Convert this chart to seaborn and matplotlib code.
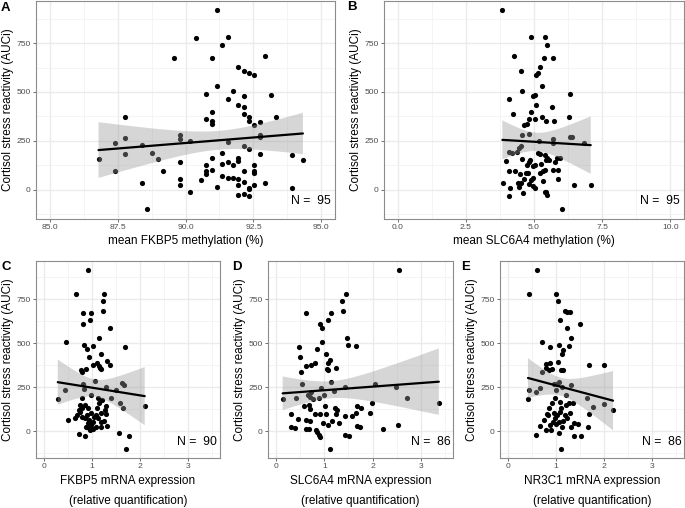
import numpy as np
import pandas as pd
import matplotlib
matplotlib.use("Agg")
import matplotlib.pyplot as plt
import seaborn as sns
from matplotlib.ticker import FixedLocator, MultipleLocator, FormatStrFormatter

# ---------------- data ----------------
a_x = [86.80, 87.39, 87.39, 87.78, 87.78, 87.78, 88.39, 88.39, 88.58, 88.77, 88.98, 89.17, 89.57,
       89.78, 89.78, 89.78, 89.78, 89.78, 90.16, 90.16, 90.37, 90.56, 90.77, 90.77, 90.77, 90.77,
       90.77, 90.96, 90.96, 90.96, 90.96, 90.96, 90.96, 91.15, 91.15, 91.15, 91.36, 91.36, 91.36,
       91.36, 91.55, 91.55, 91.55, 91.55, 91.55, 91.75, 91.75, 91.75, 91.94, 91.94, 91.94, 91.94,
       91.94, 91.94, 91.94, 92.15, 92.15, 92.15, 92.15, 92.15, 92.15, 92.15, 92.15, 92.34, 92.34,
       92.34, 92.34, 92.34, 92.34, 92.34, 92.53, 92.53, 92.53, 92.53, 92.53, 92.53, 92.74, 92.74,
       92.74, 92.74, 92.93, 92.93, 93.13, 93.33, 93.91, 93.91, 94.32]
a_y = [158, 236, 97, 374, 265, 182, 228, 31, -102, 189, 158, 94, 673,
       277, 257, 143, 53, 24, 250, -12, 777, 48, 490, 359, 128, 94,
       82, 396, 350, 338, 673, 163, 100, 918, 532, 14, 740, 189, 131,
       68, 779, 466, 243, 141, 58, 503, 126, 61, 629, 435, 160, 148,
       56, 24, -27, 609, 480, 422, 386, 221, 97, 41, -22, 597, 374,
       349, 207, 10, 2, -32, 588, 333, 124, 95, 83, 24, 347, 281,
       269, 184, 685, 34, 483, 372, 177, 7, 150]

b_x = [3.84, 4.88, 5.41, 5.48, 4.25, 5.35, 5.71, 5.21, 4.53, 5.13, 5.07, 5.31, 4.57, 6.33, 4.95,
       5.02, 4.08, 5.09, 5.67, 4.88, 4.24, 5.30, 6.27, 5.02, 4.81, 5.45, 5.75, 4.73, 4.64,
       4.55, 4.80, 5.19, 5.71, 5.71, 6.32, 6.39, 6.82, 4.10, 4.18, 4.36, 4.45, 4.52,
       3.99, 4.56, 4.81, 4.74, 4.85, 5.14, 5.21, 5.42, 5.49, 5.56, 5.45, 5.84, 5.94, 5.77,
       4.10, 4.29, 4.47, 4.70, 4.78, 4.95, 5.02, 5.27, 5.32, 5.39, 5.21, 5.70, 5.88,
       4.95, 4.88, 4.62, 4.53, 4.41, 5.33, 5.88, 3.88,
       4.46, 4.82, 5.02, 4.96, 4.12, 4.10, 4.58, 5.43, 5.48, 5.41, 6.48, 7.08, 6.01]
b_y = [918, 779, 779, 740, 685, 673, 673, 629, 609, 597, 588, 532, 503, 490, 480,
       483, 466, 435, 422, 396, 386, 374, 372, 362, 359, 349, 349, 338, 332,
       277, 282, 250, 257, 236, 269, 270, 236, 192, 189, 192, 214, 223,
       146, 158, 143, 126, 150, 185, 184, 179, 163, 153, 151, 163, 163, 141,
       95, 94, 82, 83, 87, 121, 126, 133, 94, 99, 85, 100, 100,
       58, 51, 53, 36, 32, 46, 56, 31,
       14, 27, 10, 19, 7, -32, -20, -15, -29, -12, 22, 24, -102]

c_x = [0.91, 0.67, 1.24, 1.23, 1.23, 0.81, 0.97, 0.96, 0.81, 1.38, 1.14, 0.46, 0.83, 0.89, 1.01,
       1.69, 1.18, 0.93, 1.31, 1.10, 1.01, 1.38, 1.14, 1.17, 1.19, 0.76, 0.79, 0.88,
       0.43, 0.28, 0.81, 0.82, 1.05, 1.28, 1.63, 1.67, 1.50, 1.40, 1.58, 1.65, 0.98, 0.79,
       2.10, 1.57, 1.78, 1.70, 0.79, 0.75, 0.72, 0.69, 0.49, 0.65, 0.85, 0.91, 0.98, 0.90,
       0.84, 0.79, 0.94, 1.01, 0.91, 0.98, 0.88, 0.94, 1.08, 1.19, 1.31, 1.19, 1.12, 1.19,
       1.26, 1.10, 1.15, 1.20, 1.12, 1.29, 1.08, 1.03, 0.72, 0.86, 0.95, 1.02, 1.24, 1.28, 0.74]
c_y = [916, 777, 777, 739, 684, 673, 673, 629, 610, 588, 531, 504, 491, 467, 482,
       480, 436, 421, 399, 385, 378, 378, 370, 361, 351, 348, 336, 353,
       236, 183, 268, 240, 285, 253, 274, 264, 232, 191, 159, 130, 206, 187,
       145, -11, -25, -101, 130, 149, 121, 93, 66, 74, 149, 130, 102, 93,
       74, 83, 64, 55, 45, 36, 26, 17, 26, 26, 32, 55, 74, 102,
       121, 130, 159, 178, 187, 145, 93, 83, -17, -28, 10, 12, 60, 100, 110]

d_x = [1.44, 1.37, 0.61, 1.14, 1.39, 1.07, 0.90, 0.95, 1.47, 1.48, 1.66, 0.94, 0.46, 0.85, 0.49,
       1.03, 1.12, 1.08, 0.73, 0.62, 0.80, 1.05, 1.07, 1.25, 0.51, 2.56,
       0.54, 0.93, 1.13, 1.00, 1.43, 1.20, 2.06, 0.72, 0.76, 0.69, 0.89, 0.40, 0.13, 2.48, 2.72, 0.66,
       3.38, 1.98, 1.95, 2.22, 2.54,
       0.30, 0.44, 0.38, 0.30, 0.61, 0.69, 0.57, 0.67, 0.69, 0.81, 0.91, 1.02, 1.04, 0.97, 1.07,
       1.16, 1.22, 1.27, 1.25, 1.30, 1.43, 1.57, 1.65, 1.67, 1.77, 1.68, 1.73, 1.42, 1.52, 1.12,
       0.61, 0.67, 0.82, 0.85, 0.89, 0.90]
d_y = [777, 739, 673, 673, 684, 629, 608, 588, 531, 489, 484, 504, 480, 465, 421,
       436, 402, 385, 374, 372, 387, 353, 346, 357, 334, 916,
       268, 246, 278, 206, 251, 230, 266, 225, 183, 196, 191, 187, 183, 253, 191, 206,
       159, 161, 104, 15, 34,
       96, 68, 17, 26, 64, 59, 145, 149, 128, 98, 98, 144, 98, 47, 36,
       59, 134, 121, 96, 45, 87, 87, 102, 145, 130, 32, 26, -21, -25, -100,
       11, 11, 8, -6, -21, -30]

e_x = [0.60, 0.44, 1.00, 1.04, 1.18, 1.22, 1.28, 1.09, 1.50, 1.23, 1.32, 0.70, 1.06, 0.88, 1.26,
       1.15, 1.13, 0.78, 1.03, 0.88, 0.91, 0.79, 0.84, 1.11, 1.14, 1.69, 2.00, 0.71,
       0.43, 0.57, 0.66, 0.95, 1.05, 1.00, 1.12, 1.31, 1.20, 1.64, 1.77, 2.00, 1.02, 1.35,
       0.41, 2.19, 1.69, 1.67, 1.37, 1.45, 1.38, 1.53, 0.57, 1.11,
       0.97, 0.92, 0.86, 0.83, 0.74, 0.67, 0.78, 1.07, 1.11, 1.20, 1.26, 0.98, 1.05, 0.95,
       1.02, 0.88, 0.93, 1.12, 1.05, 1.22, 1.29, 1.32, 1.19, 0.90, 1.00, 1.08, 0.80, 1.15]
e_y = [916, 777, 777, 739, 684, 674, 674, 629, 608, 588, 531, 504, 491, 480, 486,
       461, 436, 384, 395, 385, 353, 357, 348, 348, 348, 374, 374, 334,
       236, 223, 248, 270, 282, 234, 253, 264, 208, 191, 140, 157, 268, 160,
       183, 123, 98, 26, 45, 42, -26, -26, -21, -100,
       187, 159, 130, 93, 64, 30, 8, 168, 130, 149, 159, 74, 55, 102,
       93, 36, 55, 23, -8, 74, 102, 23, 93, 10, 40, 110, 100, 60]

letters = ["A", "B", "C", "D", "E"]
xlabels = ["mean FKBP5 methylation (%)", "mean SLC6A4 methylation (%)",
           "FKBP5 mRNA expression\n(relative quantification)",
           "SLC6A4 mRNA expression\n(relative quantification)",
           "NR3C1 mRNA expression\n(relative quantification)"]
n_labels = ["N =  95", "N =  95", "N =  90", "N =  86", "N =  86"]
ylabel = "Cortisol stress reactivity (AUCi)"
y_ticks = [0, 250, 500, 750]
xticks_a = [85.0, 87.5, 90.0, 92.5, 95.0]
xticks_b = [0.0, 2.5, 5.0, 7.5, 10.0]
xticks_mrna = [0, 1, 2, 3]

# ---------------- style ----------------
sns.set_theme(style="white")
plt.rcParams['font.family'] = ['Liberation Sans', 'DejaVu Sans']

W, H = 685, 508
fig = plt.figure(figsize=(W / 100, H / 100), dpi=100)


def rect(l, r, t, b):
    return [l / W, 1 - b / H, (r - l) / W, (b - t) / H]


def lm_band(x, y, level_t=1.987, npts=100):
    """Analytic 95% confidence band of an OLS fit (as ggplot's geom_smooth(method='lm'))."""
    x = np.asarray(x, float)
    y = np.asarray(y, float)
    n = len(x)
    slope, icpt = np.polyfit(x, y, 1)
    resid = y - (icpt + slope * x)
    s = np.sqrt(np.sum(resid ** 2) / (n - 2))
    xbar = x.mean()
    sxx = np.sum((x - xbar) ** 2)
    grid = np.linspace(x.min(), x.max(), npts)
    fit = icpt + slope * grid
    se = s * np.sqrt(1.0 / n + (grid - xbar) ** 2 / sxx)
    return grid, fit - level_t * se, fit + level_t * se


rects = [rect(36, 335, 1, 219), rect(384, 684, 1, 219),
         rect(36, 220, 261, 458), rect(268, 453, 261, 458), rect(500, 684, 261, 458)]
datasets = [(a_x, a_y), (b_x, b_y), (c_x, c_y), (d_x, d_y), (e_x, e_y)]
xlims = [(84.5, 95.5), (-0.5, 10.5), (-0.175, 3.675), (-0.175, 3.675), (-0.175, 3.675)]
xticks = [xticks_a, xticks_b, xticks_mrna, xticks_mrna, xticks_mrna]
xminor = [1.25, 1.25, 0.5, 0.5, 0.5]
xfmt = ["%.1f", "%.1f", "%d", "%d", "%d"]
letter_pos = [(1, 8), (347, 7), (1, 267), (232, 267), (461, 267)]

for i in range(5):
    ax = fig.add_axes(rects[i])
    xs, ys = datasets[i]
    df = pd.DataFrame({"x": xs, "y": ys})
    sns.regplot(data=df, x="x", y="y", ax=ax, ci=None, color="black",
                scatter_kws={"s": 14, "linewidths": 0, "zorder": 2, "alpha": 1},
                line_kws={"lw": 1.6, "zorder": 4})
    g, lo, hi = lm_band(xs, ys)
    ax.fill_between(g, lo, hi, facecolor="#999999", alpha=0.4, edgecolor="none",
                    zorder=3)

    ax.set_xlim(*xlims[i])
    ax.set_ylim(-151, 966)
    ax.xaxis.set_major_locator(FixedLocator(xticks[i]))
    ax.xaxis.set_major_formatter(FormatStrFormatter(xfmt[i]))
    ax.xaxis.set_minor_locator(MultipleLocator(xminor[i]))
    ax.yaxis.set_major_locator(FixedLocator(y_ticks))
    ax.yaxis.set_minor_locator(MultipleLocator(125))
    ax.set_axisbelow(True)
    ax.grid(which="major", color="#EBEBEB", lw=1.0)
    ax.grid(which="minor", color="#F2F2F2", lw=0.6)
    ax.tick_params(which="major", direction="out", length=2.3, width=0.6,
                   color="#555555", labelsize=6.1, labelcolor="#4D4D4D", pad=1.5,
                   bottom=True, left=True)
    ax.tick_params(which="minor", length=0)
    for sp in ax.spines.values():
        sp.set_color("#8C8C8C")
        sp.set_linewidth(0.8)

    ax.set_ylabel(ylabel, fontsize=8.5, color="black", labelpad=2)
    ax.set_xlabel(xlabels[i], fontsize=8.5, color="black",
                  labelpad=3 if i < 2 else 3.5, linespacing=1.85)
    ax.text(0.985, 0.082, n_labels[i], transform=ax.transAxes, ha="right",
            va="center", fontsize=8.8, color="black")
    lx, ly = letter_pos[i]
    fig.text(lx / W, 1 - ly / H, letters[i], fontsize=9.5, fontweight="bold",
             ha="left", va="center", color="black")

fig.savefig("out.png", dpi=100)
